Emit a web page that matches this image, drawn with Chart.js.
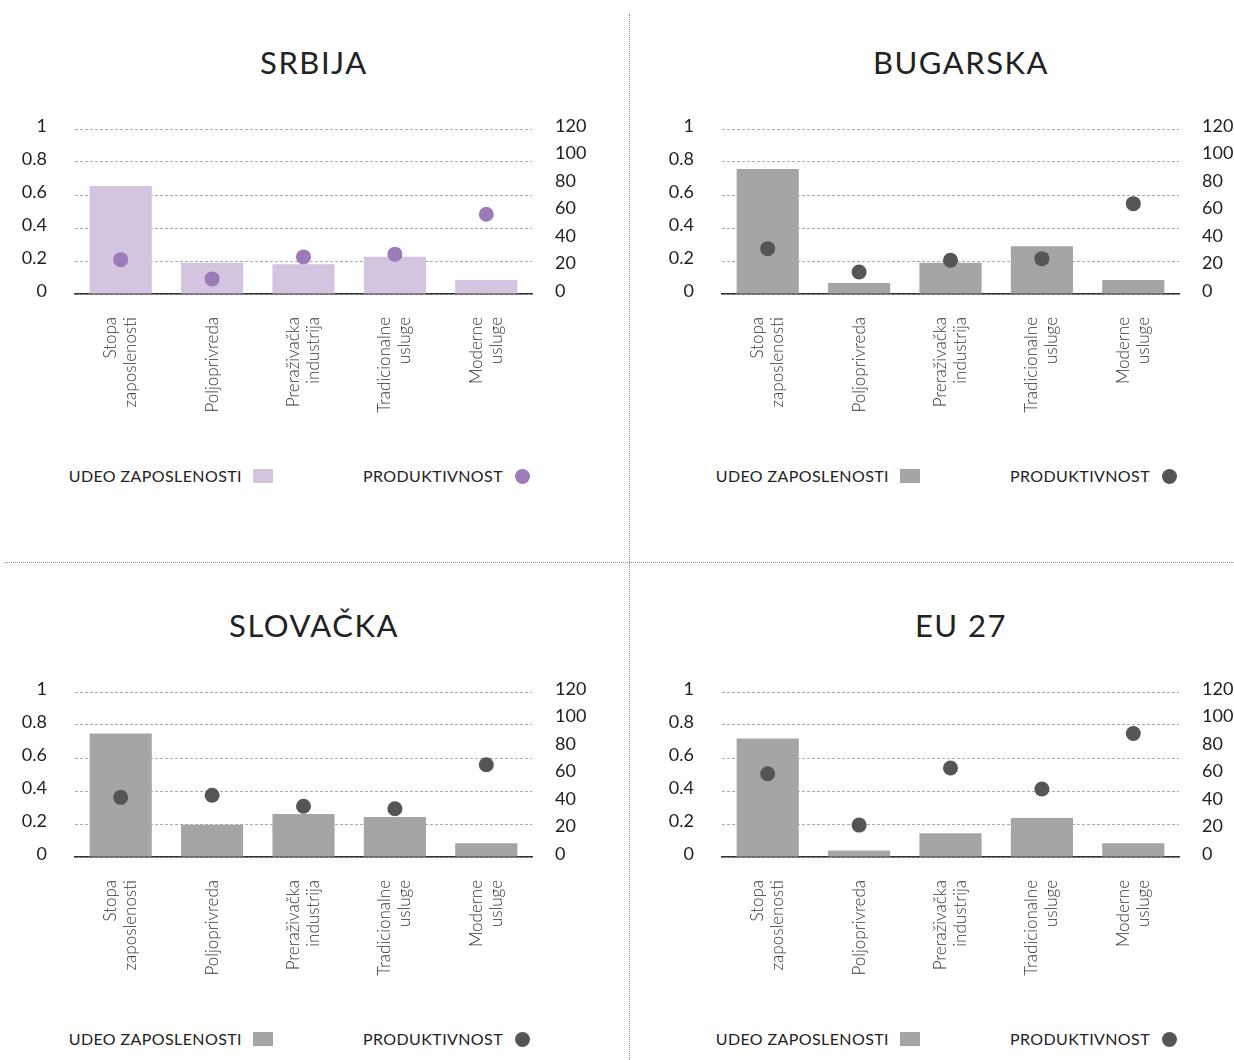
<!DOCTYPE html>
<html lang="sr">
<head>
<meta charset="utf-8">
<title>Udeo zaposlenosti i produktivnost</title>
<script src="https://cdn.jsdelivr.net/npm/chart.js@4.4.1/dist/chart.umd.min.js"></script>
<style>
  html, body { margin: 0; padding: 0; background: #fff; }
  body { width: 1234px; height: 1060px; position: relative; overflow: hidden; font-family: Lato, "Noto Sans", sans-serif; color: #222; }
  .panel { position: absolute; width: 628px; height: 563px; }
  .panel h2 { position: absolute; left: 0; top: 42px; width: 628px; margin: 0; text-align: center; font-size: 31px; line-height: 40px; font-weight: 400; letter-spacing: 1.5px; color: #222; }
  .panel canvas { position: absolute; left: 0; top: 110px; }
  .leg { position: absolute; top: 466px; font-size: 16px; line-height: 20px; letter-spacing: 0.4px; white-space: nowrap; text-align: right; }
  .leg1 { right: calc(628px - 242px); }
  .leg2 { right: calc(628px - 503px); }
  .kvadrat { position: absolute; left: 253px; top: 469px; width: 20px; height: 14px; }
  .tacka { position: absolute; left: 515px; top: 469px; width: 15px; height: 15px; border-radius: 50%; }
  .vlinija { position: absolute; left: 629px; top: 14px; height: 1046px; border-left: 1px dotted #888; }
  .hlinija { position: absolute; left: 5px; top: 562px; width: 1229px; border-top: 1px dotted #888; }
</style>
</head>
<body>

<div class="vlinija"></div>
<div class="hlinija"></div>

<div class="panel" style="left:0;top:0">
  <h2>SRBIJA</h2>
  <canvas id="srbija" width="628" height="320"></canvas>
  <div class="leg leg1">UDEO ZAPOSLENOSTI</div><div class="kvadrat" style="background:#d3c4e0"></div>
  <div class="leg leg2">PRODUKTIVNOST</div><div class="tacka" style="background:#9b7bb8"></div>
</div>

<div class="panel" style="left:647px;top:0">
  <h2>BUGARSKA</h2>
  <canvas id="bugarska" width="628" height="320"></canvas>
  <div class="leg leg1">UDEO ZAPOSLENOSTI</div><div class="kvadrat" style="background:#a5a5a8"></div>
  <div class="leg leg2">PRODUKTIVNOST</div><div class="tacka" style="background:#555558"></div>
</div>

<div class="panel" style="left:0;top:563px">
  <h2>SLOVAČKA</h2>
  <canvas id="slovacka" width="628" height="320"></canvas>
  <div class="leg leg1">UDEO ZAPOSLENOSTI</div><div class="kvadrat" style="background:#a5a5a8"></div>
  <div class="leg leg2">PRODUKTIVNOST</div><div class="tacka" style="background:#555558"></div>
</div>

<div class="panel" style="left:647px;top:563px">
  <h2>EU 27</h2>
  <canvas id="eu27" width="628" height="320"></canvas>
  <div class="leg leg1">UDEO ZAPOSLENOSTI</div><div class="kvadrat" style="background:#a5a5a8"></div>
  <div class="leg leg2">PRODUKTIVNOST</div><div class="tacka" style="background:#555558"></div>
</div>

<script>
// Kategorije (dva reda po oznaci)
const kategorije = [
  ["Stopa", "zaposlenosti"],
  ["Poljoprivreda"],
  ["Preraživačka", "industrija"],
  ["Tradicionalne", "usluge"],
  ["Moderne", "usluge"]
];

// Podeoci osa
const leviPodeoci = [0, 0.2, 0.4, 0.6, 0.8, 1];
const desniPodeoci = [0, 20, 40, 60, 80, 100, 120];

// Udeo zaposlenosti (leva osa) i produktivnost (desna osa)
const srbijaUdeo = [0.655, 0.19, 0.18, 0.226, 0.085];
const srbijaProd = [25, 11, 27, 29, 58];

const bugarskaUdeo = [0.758, 0.067, 0.19, 0.29, 0.085];
const bugarskaProd = [33, 16, 24.5, 25.7, 65.7];

const slovackaUdeo = [0.748, 0.195, 0.26, 0.242, 0.083];
const slovackaProd = [43.4, 44.9, 36.9, 35.1, 67.1];

const eu27Udeo = [0.718, 0.04, 0.144, 0.236, 0.083];
const eu27Prod = [60.5, 23.2, 64.7, 49.5, 89.8];

// Oznake kategorija: uspravno, redovi centrirani oko stubica
const oznakeKategorija = {
  id: 'oznakeKategorija',
  afterDraw(chart) {
    const x = chart.scales.x;
    const ctx = chart.ctx;
    ctx.save();
    ctx.fillStyle = '#333';
    ctx.font = '300 17px Lato';
    ctx.textAlign = 'right';
    ctx.textBaseline = 'middle';
    kategorije.forEach((redovi, i) => {
      const px = x.getPixelForValue(i);
      redovi.forEach((red, j) => {
        const dx = (j - (redovi.length - 1) / 2) * 20;
        ctx.save();
        ctx.translate(px + dx, x.top + 23);
        ctx.rotate(-Math.PI / 2);
        ctx.fillText(red, 0, 0);
        ctx.restore();
      });
    });
    ctx.restore();
  }
};

// uspravne ose bez dodatnog razmaka iznad i ispod
function fiksnaSirina(w) {
  return function(s) {
    s.width = w;
    s.paddingTop = 0;
    s.paddingBottom = 0;
  };
}

function napraviGrafikon(id, udeo, prod, bojaStubica, bojaTacke) {
  new Chart(document.getElementById(id), {
    type: 'bar',
    data: {
      labels: kategorije.map(k => k.join(' ')),
      datasets: [
        {
          type: 'line',
          label: 'Produktivnost',
          data: prod,
          yAxisID: 'y2',
          showLine: false,
          pointRadius: 7.5,
          pointHoverRadius: 7.5,
          pointBorderWidth: 0,
          pointBackgroundColor: bojaTacke,
          backgroundColor: bojaTacke,
          borderColor: bojaTacke,
          clip: false,
          order: 0
        },
        {
          label: 'Udeo zaposlenosti',
          data: udeo,
          yAxisID: 'y',
          backgroundColor: bojaStubica,
          barPercentage: 0.68,
          categoryPercentage: 1,
          order: 1
        }
      ]
    },
    options: {
      responsive: false,
      animation: false,
      layout: { padding: { top: 19, left: 0, right: 0, bottom: 0 } },
      plugins: {
        legend: { display: false },
        tooltip: { enabled: false }
      },
      scales: {
        x: {
          grid: { display: false, drawTicks: false },
          border: { display: true, color: '#333', width: 1.5 },
          ticks: { display: false },
          afterFit: function(s) { s.height = 136; }
        },
        y: {
          position: 'left',
          min: 0,
          max: 1,
          afterBuildTicks: function(s) { s.ticks = leviPodeoci.map(v => ({ value: v })); },
          grid: { color: '#aaa', lineWidth: 1, drawTicks: false },
          border: { display: false, dash: [3, 2] },
          ticks: {
            autoSkip: false,
            padding: 28,
            labelOffset: -2.5,
            color: '#222',
            font: { family: 'Lato', size: 18 },
            callback: function(v) { return String(v); }
          },
          afterFit: fiksnaSirina(75)
        },
        y2: {
          position: 'right',
          min: 0,
          max: 120,
          afterBuildTicks: function(s) { s.ticks = desniPodeoci.map(v => ({ value: v })); },
          grid: { display: false, drawOnChartArea: false, drawTicks: false },
          border: { display: false },
          ticks: {
            autoSkip: false,
            padding: 23,
            labelOffset: -3,
            color: '#222',
            font: { family: 'Lato', size: 18 },
            callback: function(v) { return String(v); }
          },
          afterFit: fiksnaSirina(96)
        }
      }
    },
    plugins: [oznakeKategorija]
  });
}

napraviGrafikon('srbija', srbijaUdeo, srbijaProd, '#d3c4e0', '#9b7bb8');
napraviGrafikon('bugarska', bugarskaUdeo, bugarskaProd, '#a5a5a8', '#555558');
napraviGrafikon('slovacka', slovackaUdeo, slovackaProd, '#a5a5a8', '#555558');
napraviGrafikon('eu27', eu27Udeo, eu27Prod, '#a5a5a8', '#555558');
</script>
</body>
</html>
